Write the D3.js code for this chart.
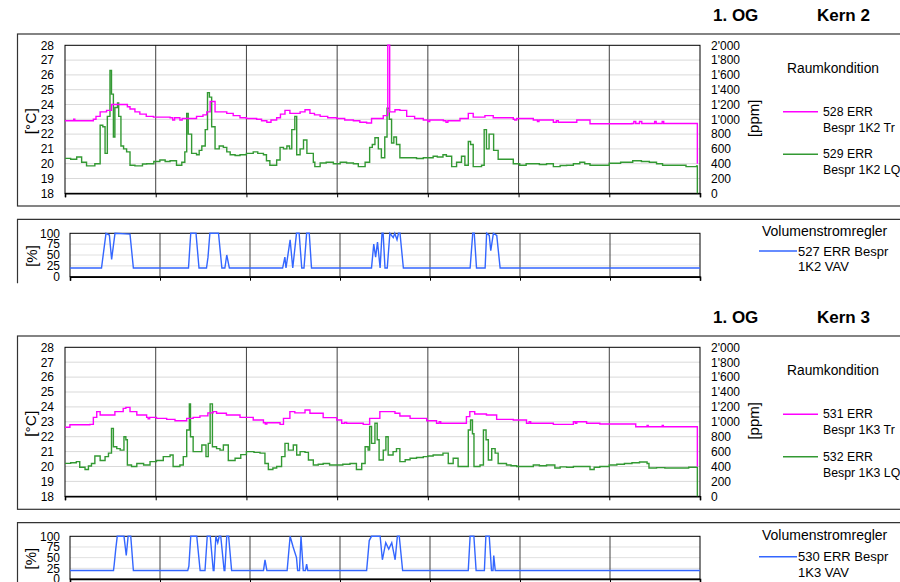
<!DOCTYPE html>
<html><head><meta charset="utf-8">
<script src="https://cdn.jsdelivr.net/npm/d3@7"></script>
<style>body{margin:0;background:#fff}svg{display:block;font-family:"Liberation Sans",Arial,sans-serif}</style>
</head><body><svg id="c" width="900" height="582"></svg>
<script>
// ---------- axis ticks ----------
const dayTicks = [0, 24, 48, 72, 96, 120, 144, 168];
const tempTicks = [18, 19, 20, 21, 22, 23, 24, 25, 26, 27, 28];
const ppmTicks = [0, 200, 400, 600, 800, 1000, 1200, 1400, 1600, 1800, 2000];
const ppmLabels = ["0", "200", "400", "600", "800", "1'000", "1'200", "1'400", "1'600", "1'800", "2'000"];
const pctTicks = [0, 25, 50, 75, 100];

// ---------- Kern 2 : [hour, value] ----------
const k2Temp = [[0,22.9],[2,22.9],[2.3,23.0],[2.6,22.9],[7,22.9],[7.5,23.0],[8.2,23.2],[9.3,23.5],[11,23.6],[12.3,24.0],[15.9,24.0],[16.5,23.85],[17.2,23.7],[18.5,23.5],[19.8,23.35],[21.5,23.2],[23.4,23.15],[27.8,23.1],[28.5,22.95],[29,23.1],[30.4,22.95],[31,23.05],[32,23.05],[34.8,23.2],[36.5,23.3],[37.5,23.5],[38.4,24.2],[39.7,23.5],[42.8,23.4],[44.5,23.25],[46.3,23.1],[48,23.05],[50.7,23.0],[52,22.9],[53.4,22.8],[54.5,22.95],[56,23.1],[57,23.35],[58.2,23.6],[59.5,23.4],[62.2,23.5],[63.5,23.65],[64.8,23.4],[66,23.3],[67.5,23.2],[69.5,23.1],[71.9,23.05],[74,22.95],[76.3,22.9],[78,22.8],[79.8,22.75],[81.1,23.05],[84.2,23.25],[85.3,23.3],[85.4,28],[85.8,28],[85.9,23.5],[87.3,23.65],[88.6,23.6],[90.4,23.2],[92.5,23.05],[94.8,22.95],[96,22.85],[96.5,22.95],[100.1,22.9],[100.8,22.8],[101.3,22.9],[104.5,23.05],[106.7,23.4],[108,23.15],[111.1,23.25],[113.3,23.1],[118.6,23.0],[119,22.95],[119.5,23.05],[123.9,22.95],[125,22.85],[125.4,22.95],[129.2,22.8],[130,22.9],[130.5,22.8],[135.4,22.95],[138,22.95],[138.9,22.7],[150,22.72],[150.5,22.85],[151,22.72],[152,22.85],[152.6,22.72],[156,22.85],[156.4,22.72],[158,22.85],[158.4,22.72],[167.2,22.72],[167.3,20.0]];
const k2CO2 = [[0,472],[1.5,460],[3.1,490],[4.4,420],[5.7,370],[7.9,400],[9,400],[9.3,920],[10,900],[10.6,540],[11.2,1040],[11.9,1660],[12.3,1340],[12.8,760],[13.2,1160],[13.9,1220],[14.2,1040],[14.8,640],[15.5,600],[16.3,560],[17.2,380],[18.5,370],[19.8,370],[20.5,395],[21.6,400],[23.5,430],[25.1,450],[26.5,430],[27.8,440],[29.5,380],[30.9,420],[31.7,560],[32.2,1080],[32.6,800],[33.5,540],[34.8,520],[35.5,580],[36.2,640],[37.1,860],[37.7,1360],[38.2,1300],[38.8,900],[39.7,600],[40.8,640],[41.9,620],[42.8,560],[43.7,520],[45,510],[46.3,520],[48,540],[49.8,560],[51,540],[52.5,520],[53.3,440],[54.2,380],[56,450],[56.9,620],[57.8,600],[58.7,640],[59.4,600],[60,860],[60.8,1040],[61.3,520],[62.2,600],[63.1,720],[64,540],[65.7,420],[66.1,360],[67.5,410],[69.1,420],[71,400],[72.8,420],[74.5,410],[76.3,400],[77.6,360],[79.4,420],[80.6,620],[81.3,660],[82,750],[82.9,600],[83.7,480],[84.6,760],[85.2,1150],[85.8,1000],[86.4,680],[87,760],[87.7,660],[88.6,480],[91.3,480],[93,470],[94.8,480],[97.4,500],[98.5,490],[100,520],[100.9,500],[102.3,360],[103.6,420],[104.9,500],[105.8,380],[106.7,700],[107.3,660],[108,360],[110.2,380],[110.9,860],[111.5,600],[112.2,800],[112.8,800],[113.4,580],[114.6,460],[116.8,460],[118.6,400],[120.3,380],[122,400],[123.9,400],[125.5,390],[127.4,400],[129.2,360],[131,375],[132.7,380],[134.5,400],[136.2,420],[137.5,400],[138.9,380],[141.5,380],[144,406],[147,420],[150.2,440],[152.5,430],[154.6,420],[156.5,400],[158.1,380],[162.5,380],[164.3,360],[167.1,370],[167.3,0]];
const k2VAV = [[0,20],[8.4,20],[9.6,100],[10.5,96],[11.1,40],[12.0,100],[16,98],[16.9,20],[31.6,20],[32.2,100],[33.6,100],[34.4,20],[36.4,20],[36.8,45],[37.3,100],[39.6,100],[40.5,20],[41.3,20],[41.8,50],[42.5,20],[56.7,20],[57.3,45],[57.6,20],[58.7,85],[59.4,20],[60.4,100],[61.1,100],[61.8,20],[62.4,20],[63.1,100],[63.8,100],[64.4,20],[80.4,20],[81,75],[81.5,45],[82,80],[82.7,20],[83.2,100],[83.5,100],[84,20],[84.6,20],[85.3,100],[86.2,90],[86.6,100],[87.2,85],[87.6,100],[88,100],[88.9,20],[106.7,20],[107.4,100],[107.8,100],[108.4,20],[110.7,20],[111.1,100],[111.8,95],[112.2,60],[112.9,100],[113.8,95],[114.7,20],[168,20]];

// ---------- Kern 3 : [hour, value] ----------
const k3Temp = [[0,22.63],[1.3,22.8],[6.6,22.83],[7.5,23.3],[8.4,23.68],[9.3,23.46],[11.9,23.46],[13.2,23.68],[15.4,23.9],[16.1,23.97],[17.2,23.68],[19,23.46],[21.6,23.3],[22,23.2],[22.4,23.3],[24.2,23.23],[26.9,23.16],[29.1,23.07],[32.2,23.23],[33.9,23.3],[35.7,23.4],[37.8,23.6],[39.2,23.68],[40.1,23.57],[42.7,23.46],[46.3,23.3],[49.8,23.12],[52.5,22.94],[53,22.85],[53.4,22.94],[56.9,22.83],[57.8,23.23],[59.5,23.68],[60.8,23.6],[63.5,23.79],[64.8,23.57],[68.3,23.28],[71.9,23.12],[73.2,22.9],[74,22.95],[74.5,22.9],[78.9,22.83],[80.6,23.23],[83.3,23.68],[84.6,23.68],[87.3,23.57],[88.6,23.39],[91.3,23.23],[95.7,23.07],[98.3,22.9],[99,23.0],[99.4,22.9],[105.4,22.9],[106.2,23.35],[107.1,23.68],[108.4,23.52],[111.5,23.46],[114.2,23.16],[118.6,23.12],[122.1,22.9],[122.8,23.0],[123.2,22.9],[129.2,22.83],[134.5,23.0],[135,22.9],[135.4,23.0],[138,22.9],[141.5,22.85],[150.9,22.85],[151,22.67],[154,22.75],[154.3,22.67],[158,22.75],[158.3,22.67],[167.1,22.67],[167.3,20.0]];
const k3CO2 = [[0,442],[1.5,450],[3,466],[3.9,390],[5.3,360],[6.2,406],[7,440],[7.9,540],[9.3,480],[10.6,532],[11.5,580],[12.3,912],[12.8,666],[13.7,640],[14.6,620],[15.6,800],[16.1,760],[16.5,420],[17.6,400],[19,440],[20.8,420],[22.5,466],[24.2,480],[26,532],[27.8,554],[28.6,400],[30.4,420],[31.3,532],[32.2,890],[32.9,1240],[33.2,800],[33.9,600],[35.3,600],[36.2,688],[37.3,532],[37.9,710],[38.4,1240],[39,666],[40.1,640],[41,620],[41.9,688],[43.2,480],[45,510],[46.5,560],[48,600],[50,590],[51.6,580],[52.9,440],[53.8,360],[55,380],[56,400],[57.3,532],[58.2,710],[59.1,620],[60.4,688],[61.3,554],[62.2,600],[63.5,590],[64.4,488],[65.7,420],[67,430],[68.3,440],[70,420],[71.9,420],[73.5,430],[75.4,440],[77.1,360],[78.5,440],[79.4,666],[80.2,620],[80.6,936],[81.1,710],[82,980],[82.6,760],[83.1,488],[84.2,620],[84.9,800],[85.5,554],[86.8,600],[87.7,640],[88.6,466],[90,490],[91.3,510],[93,520],[94.8,532],[96,540],[97.4,554],[100,580],[101.4,440],[102.7,510],[104,400],[105.8,400],[106.7,890],[107.3,1024],[107.8,840],[108.2,400],[109.8,420],[110.7,890],[111.4,760],[112,488],[112.9,640],[113.8,580],[114.6,440],[116.8,420],[118,410],[119.5,400],[122.1,400],[123.9,420],[125.5,410],[127.4,420],[129.6,380],[131,395],[132.7,390],[134.5,400],[136.2,400],[138.9,360],[140,390],[141.5,400],[144,420],[146,430],[148,440],[150,450],[152,460],[154,440],[154.5,380],[156.5,385],[158.7,380],[163,380],[165,390],[167.1,390],[167.3,0]];
const k3VAV = [[0,20],[11.6,20],[11.8,35],[12.2,70],[12.6,100],[14.4,100],[15,55],[15.5,100],[16.2,100],[16.9,20],[31.4,20],[31.7,30],[32.2,100],[33.8,100],[34.7,20],[36,20],[36.6,100],[37.4,100],[38.2,20],[38.4,20],[38.9,100],[39.4,85],[39.8,100],[40.2,100],[41.1,20],[41.3,20],[41.8,100],[42.3,100],[43.1,20],[51.6,20],[52,45],[52.5,20],[57.9,20],[58.7,100],[59.5,75],[60.4,50],[60.7,20],[61.2,20],[61.6,100],[62.2,20],[62.8,20],[63.1,35],[63.4,20],[79.1,20],[79.8,90],[80.4,100],[82.7,100],[83.3,45],[84.2,85],[85,70],[85.8,85],[86.7,45],[87.3,100],[87.8,100],[88.7,20],[106.2,20],[106.7,100],[107.7,100],[108.3,20],[110.5,20],[110.9,100],[111.8,100],[112.4,20],[112.8,20],[113,55],[113.4,20],[168,20]];

// ---------- legend / header texts ----------
const panelTitles = ["Kern 2", "Kern 3"];
const tempNames = [["528 ERR", "Bespr 1K2 Tr"], ["531 ERR", "Bespr 1K3 Tr"]];
const co2Names = [["529 ERR", "Bespr 1K2 LQ"], ["532 ERR", "Bespr 1K3 LQ"]];
const vavNames = [["527 ERR Bespr", "1K2 VAV"], ["530 ERR Bespr", "1K3 VAV"]];

const panels = [
  {title: panelTitles[0], temp: k2Temp, co2: k2CO2, vav: k2VAV, tn: tempNames[0], cn: co2Names[0], vn: vavNames[0],
   header: 15.5, boxTop: 34, boxBottom: 206, plotTop: 45.3, plotBottom: 193.3,
   vavBoxTop: 219.3, vavTop: 233.3, vavBottom: 276.7,
   raum: 68.5, leg1: 111.7, leg2: 154.3, vTitle: 230.7, vLeg: 251},
  {title: panelTitles[1], temp: k3Temp, co2: k3CO2, vav: k3VAV, tn: tempNames[1], cn: co2Names[1], vn: vavNames[1],
   header: 317, boxTop: 336, boxBottom: 509.3, plotTop: 347.3, plotBottom: 496.3,
   vavBoxTop: 522.7, vavTop: 536.3, vavBottom: 579,
   raum: 370.8, leg1: 414.3, leg2: 456.7, vTitle: 535, vLeg: 556.7}
];

const svg = d3.select("#c");
const cMag = "#ff00ff", cGreen = "#339933", cBlue = "#3366ff";

function txt(g, x, y, s, size, opts = {}) {
  const t = g.append("text").attr("x", x).attr("y", y).attr("dominant-baseline", "central")
    .attr("font-size", size).attr("fill", "#000").text(s);
  if (opts.bold) t.attr("font-weight", "bold");
  if (opts.anchor) t.attr("text-anchor", opts.anchor);
  if (opts.rot !== undefined) t.attr("transform", `rotate(${opts.rot},${x},${y})`);
  return t;
}

function styleAxis(a, size) {
  a.attr("font-family", null).attr("font-size", null);
  a.selectAll("text").attr("font-size", size).attr("fill", "#000");
  a.select(".domain").remove();
}

panels.forEach(p => {
  const g = svg.append("g");
  // header
  txt(g, 713, p.header, "1. OG", 17, {bold: true});
  txt(g, 817, p.header, p.title, 17, {bold: true});

  // ---------- main chart ----------
  g.append("rect").attr("x", 17.5).attr("y", p.boxTop).attr("width", 900).attr("height", p.boxBottom - p.boxTop)
    .attr("fill", "none").attr("stroke", "#333").attr("stroke-width", 1.2);

  const x = d3.scaleLinear().domain([0, 168]).range([65, 700]);
  const yT = d3.scaleLinear().domain([18, 28]).range([p.plotBottom, p.plotTop]);
  const yC = d3.scaleLinear().domain([0, 2000]).range([p.plotBottom, p.plotTop]);

  g.append("g").selectAll("line").data(tempTicks.slice(1, -1)).join("line")
    .attr("x1", 65).attr("x2", 700).attr("y1", d => yT(d)).attr("y2", d => yT(d))
    .attr("stroke", "#d9d9d9").attr("stroke-width", 1);
  g.append("g").selectAll("line").data(dayTicks.slice(1, -1)).join("line")
    .attr("x1", d => x(d)).attr("x2", d => x(d)).attr("y1", p.plotTop).attr("y2", p.plotBottom)
    .attr("stroke", "#404040").attr("stroke-width", 1);
  g.append("rect").attr("x", 65).attr("y", p.plotTop).attr("width", 635).attr("height", p.plotBottom - p.plotTop)
    .attr("fill", "none").attr("stroke", "#000").attr("stroke-width", 1);

  const axL = g.append("g").attr("transform", "translate(65,0)")
    .call(d3.axisLeft(yT).tickValues(tempTicks).tickSize(0).tickPadding(11).tickFormat(d3.format("d")));
  styleAxis(axL, 12);
  const axR = g.append("g").attr("transform", "translate(700,0)")
    .call(d3.axisRight(yC).tickValues(ppmTicks).tickSize(0).tickPadding(11).tickFormat((d, i) => ppmLabels[i]));
  styleAxis(axR, 12);
  const axB = g.append("g").attr("transform", `translate(0,${p.plotBottom})`)
    .call(d3.axisBottom(x).tickValues(dayTicks).tickSize(4).tickFormat(""));
  axB.select(".domain").attr("stroke", "#000").attr("stroke-width", 1.6);
  axB.selectAll(".tick line").attr("stroke", "#000");

  txt(g, 31, (p.plotTop + p.plotBottom) / 2 + 2, "[°C]", 15.5, {anchor: "middle", rot: -90});
  txt(g, 754, (p.plotTop + p.plotBottom) / 2 - 1, "[ppm]", 15, {anchor: "middle", rot: -90});

  const lT = d3.line().curve(d3.curveStepAfter).x(d => x(d[0])).y(d => yT(d[1]));
  const lC = d3.line().curve(d3.curveStepAfter).x(d => x(d[0])).y(d => yC(d[1]));
  g.append("path").attr("d", lC(p.co2)).attr("fill", "none").attr("stroke", cGreen).attr("stroke-width", 1.4);
  g.append("path").attr("d", lT(p.temp)).attr("fill", "none").attr("stroke", cMag).attr("stroke-width", 1.4);

  // legend
  txt(g, 787, p.raum, "Raumkondition", 13.8);
  g.append("line").attr("x1", 783).attr("x2", 818).attr("y1", p.leg1).attr("y2", p.leg1).attr("stroke", cMag).attr("stroke-width", 1.5);
  txt(g, 823, p.leg1, p.tn[0], 12.3);
  txt(g, 823, p.leg1 + 16, p.tn[1], 12.3);
  g.append("line").attr("x1", 783).attr("x2", 818).attr("y1", p.leg2).attr("y2", p.leg2).attr("stroke", cGreen).attr("stroke-width", 1.5);
  txt(g, 823, p.leg2, p.cn[0], 12.3);
  txt(g, 823, p.leg2 + 16, p.cn[1], 12.3);

  // ---------- VAV chart ----------
  g.append("path").attr("d", `M17.5,${p.vavBoxTop + 64} V${p.vavBoxTop} H905`)
    .attr("fill", "none").attr("stroke", "#333").attr("stroke-width", 1.2);

  const xv = d3.scaleLinear().domain([0, 168]).range([70, 700]);
  const yP = d3.scaleLinear().domain([0, 100]).range([p.vavBottom, p.vavTop]);
  g.append("g").selectAll("line").data(pctTicks.slice(1, -1)).join("line")
    .attr("x1", 70).attr("x2", 700).attr("y1", d => yP(d)).attr("y2", d => yP(d))
    .attr("stroke", "#e0e0e0").attr("stroke-width", 1);
  g.append("g").selectAll("line").data(dayTicks.slice(1, -1)).join("line")
    .attr("x1", d => xv(d)).attr("x2", d => xv(d)).attr("y1", p.vavTop).attr("y2", p.vavBottom)
    .attr("stroke", "#404040").attr("stroke-width", 1);
  g.append("rect").attr("x", 70).attr("y", p.vavTop).attr("width", 630).attr("height", p.vavBottom - p.vavTop)
    .attr("fill", "none").attr("stroke", "#000").attr("stroke-width", 1);
  const axV = g.append("g").attr("transform", "translate(70,0)")
    .call(d3.axisLeft(yP).tickValues(pctTicks).tickSize(0).tickPadding(10).tickFormat(d3.format("d")));
  styleAxis(axV, 12);
  const axVB = g.append("g").attr("transform", `translate(0,${p.vavBottom})`)
    .call(d3.axisBottom(xv).tickValues(dayTicks).tickSize(4).tickFormat(""));
  axVB.select(".domain").attr("stroke", "#000").attr("stroke-width", 1.6);
  axVB.selectAll(".tick line").attr("stroke", "#000");
  txt(g, 31, (p.vavTop + p.vavBottom) / 2 + 1, "[%]", 15, {anchor: "middle", rot: -90});

  const lV = d3.line().x(d => xv(d[0])).y(d => yP(d[1]));
  g.append("path").attr("d", lV(p.vav)).attr("fill", "none").attr("stroke", cBlue).attr("stroke-width", 1.4);

  txt(g, 762, p.vTitle, "Volumenstromregler", 14);
  g.append("line").attr("x1", 759).attr("x2", 797).attr("y1", p.vLeg).attr("y2", p.vLeg).attr("stroke", cBlue).attr("stroke-width", 1.5);
  txt(g, 798, p.vLeg, p.vn[0], 13);
  txt(g, 798, p.vLeg + 15.5, p.vn[1], 13);
});
</script></body></html>
